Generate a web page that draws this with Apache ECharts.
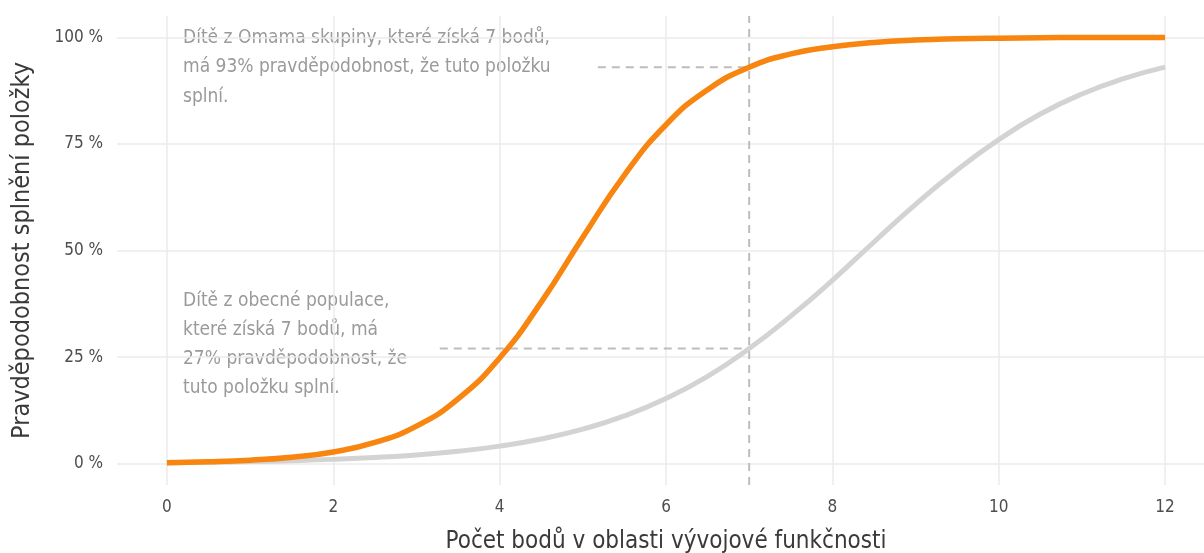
<!DOCTYPE html>
<html><head><meta charset="utf-8">
<script src="https://cdn.jsdelivr.net/npm/echarts@6/dist/echarts.min.js"></script>
<style>html,body{margin:0;padding:0;background:#fff}#c{width:1204px;height:553px}</style>
</head><body><div id="c"></div>
<script>
const xValues = [0,0.5,1,1.5,2,2.5,3,3.5,4,4.5,5,5.5,6,6.5,7,7.5,8,8.5,9,9.5,10,10.5,11,11.5,12];
const omama   = [0.24,0.44,0.82,1.5,2.75,4.97,8.8,15.2,24.8,37.9,53.1,67.7,79.5,87.7,93.0,96.1,97.8,98.8,99.36,99.65,99.81,99.9,99.95,99.97,99.98];
const general = [0.24,0.35,0.5,0.71,1.01,1.44,2.05,2.92,4.12,5.8,8.1,11.2,15.3,20.5,27.0,34.6,43.0,52.0,60.8,68.9,76.0,82.0,86.7,90.3,93.0];
const xTicks = [0,2,4,6,8,10,12];
const yTicks = [0,25,50,75,100];
const refX = 7;
const omamaAt7 = 93;
const generalAt7 = 27;
const omamaDashStart = 5.18;
const generalDashStart = 3.28;
const xRange = [-0.6, 12.6];
const yRange = [-5, 105];
const noteOmama = 'Dítě z Omama skupiny, které získá 7 bodů,\nmá 93% pravděpodobnost, že tuto položku\nsplní.';
const noteGeneral = 'Dítě z obecné populace,\nkteré získá 7 bodů, má\n27% pravděpodobnost, že\ntuto položku splní.';

const FONT = '"Liberation Sans Narrow","DejaVu Sans Condensed","Open Sans",sans-serif';
const chart = echarts.init(document.getElementById('c'));
const dash = {color:'#BDBDBD', width:2, type:[8,6]};
chart.setOption({
  animation:false,
  textStyle:{fontFamily:FONT},
  grid:{left:117, right:-11, top:16, bottom:68, containLabel:false, outerBoundsMode:'none'},
  xAxis:{type:'value', min:xRange[0], max:xRange[1],
    name:'Počet bodů v oblasti vývojové funkčnosti', nameLocation:'middle', nameGap:45,
    nameTextStyle:{fontFamily:FONT, fontSize:24, color:'#3a3a3a'},
    axisLine:{show:false}, axisTick:{show:false, customValues:xTicks},
    axisLabel:{customValues:xTicks, fontFamily:FONT, fontSize:17, color:'#4d4d4d', margin:14},
    splitLine:{show:true, lineStyle:{color:'#EBEBEB', width:1.5}}},
  yAxis:{type:'value', min:yRange[0], max:yRange[1],
    name:'Pravděpodobnost splnění položky', nameLocation:'middle', nameGap:82,
    nameTextStyle:{fontFamily:FONT, fontSize:25, color:'#3a3a3a'},
    axisLine:{show:false}, axisTick:{show:false, customValues:yTicks},
    axisLabel:{customValues:yTicks, formatter:v=>v+' %', fontFamily:FONT, fontSize:17, color:'#4d4d4d', margin:14},
    splitLine:{show:true, lineStyle:{color:'#EBEBEB', width:1.5}}},
  series:[
    {type:'line', data:[[refX,yRange[0]],[refX,yRange[1]]], symbol:'none', lineStyle:dash, silent:true},
    {type:'line', data:[[omamaDashStart,omamaAt7],[refX,omamaAt7]], symbol:'none', lineStyle:dash, silent:true},
    {type:'line', data:[[generalDashStart,generalAt7],[refX,generalAt7]], symbol:'none', lineStyle:dash, silent:true},
    {type:'line', data:xValues.map((x,i)=>[x,general[i]]), symbol:'none', smooth:true, lineStyle:{color:'#D3D3D3', width:5}},
    {type:'line', data:xValues.map((x,i)=>[x,omama[i]]), symbol:'none', smooth:true, lineStyle:{color:'#F7850F', width:5.5}}
  ],
  graphic:[
    {type:'text', left:183, top:23, style:{text:noteOmama, font:'19px '+FONT, fill:'#9a9a9a', lineHeight:29.5}},
    {type:'text', left:183, top:287, style:{text:noteGeneral, font:'19px '+FONT, fill:'#9a9a9a', lineHeight:29}}
  ]
});
</script></body></html>
